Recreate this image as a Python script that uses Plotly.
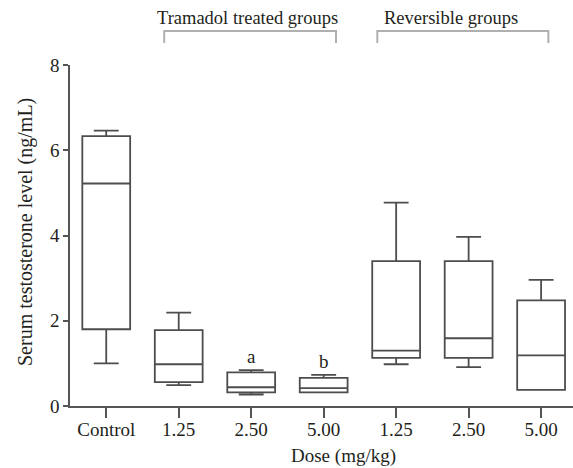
import plotly.graph_objects as go

# Data (ng/mL)
groups = ["Control", "1.25", "2.50", "5.00", "1.25", "2.50", "5.00"]
upper = [6.46, 2.19, 0.84, 0.73, 4.77, 3.97, 2.96]
q3 = [6.33, 1.78, 0.79, 0.66, 3.40, 3.40, 2.48]
median = [5.22, 0.98, 0.44, 0.42, 1.30, 1.59, 1.19]
q1 = [1.80, 0.56, 0.32, 0.32, 1.13, 1.13, 0.38]
lower = [1.00, 0.49, 0.27, 0.32, 0.98, 0.91, 0.38]
sig_labels = ["", "", "a", "b", "", "", ""]
group_titles = ["Tramadol treated groups", "Reversible groups"]
group_members = [[1, 2, 3], [4, 5, 6]]
y_ticks = [0, 2, 4, 6, 8]

positions = list(range(len(groups)))
FONT = "Liberation Serif, Times New Roman, serif"
TXT = "#231f20"
LINE = "#4d4d4d"
W, H = 573, 468
ML, MR, MT, MB = 70, 0, 65, 62
PW, PH = W - ML - MR, H - MT - MB

fig = go.Figure()
fig.add_trace(go.Box(
    x=positions, q1=q1, median=median, q3=q3,
    lowerfence=lower, upperfence=upper,
    boxpoints=False, fillcolor="rgba(0,0,0,0)",
    line=dict(color=LINE, width=1.8),
    whiskerwidth=0.52, width=0.66, showlegend=False, hoverinfo="skip",
))

annotations = []
for p, lab, u in zip(positions, sig_labels, upper):
    if lab:
        annotations.append(dict(x=p, y=u, xref="x", yref="y", text=lab,
                                showarrow=False, yanchor="bottom", yshift=1,
                                font=dict(family=FONT, size=19, color=TXT)))

# bracket extents relative to the group's first/last member, and label shift
bracket_pad = [(-0.20, 0.17, -0.03), (-0.26, 0.10, -0.165)]
shapes = []
for title, mem, (pl, pr, tshift) in zip(group_titles, group_members, bracket_pad):
    x0, x1 = mem[0] + pl, mem[-1] + pr
    c = (x0 + x1) / 2
    y_top, y_bot = (MT + PH - 31) / PH, (MT + PH - 43) / PH
    shapes.append(dict(type="path", xref="x", yref="paper",
                       path=f"M {x0},{y_bot} L {x0},{y_top} L {x1},{y_top} L {x1},{y_bot}",
                       line=dict(color="#b0b0b0", width=2)))
    annotations.append(dict(x=c + tshift, y=(MT + PH - 18) / PH, xref="x", yref="paper", text=title,
                            showarrow=False, yanchor="middle",
                            font=dict(family=FONT, size=18.5, color=TXT)))

# axis titles
annotations.append(dict(x=(343 - ML) / PW, y=-(456 - MT - PH) / PH, xref="paper", yref="paper",
                        text="Dose (mg/kg)", showarrow=False,
                        xanchor="center", yanchor="middle",
                        font=dict(family=FONT, size=19, color=TXT)))
annotations.append(dict(x=-(ML - 25) / PW, y=(MT + PH - 232) / PH, xref="paper", yref="paper",
                        text="Serum testosterone level (ng/mL)", showarrow=False,
                        textangle=-90, xanchor="center", yanchor="middle",
                        font=dict(family=FONT, size=20, color=TXT)))

fig.update_layout(
    width=W, height=H,
    margin=dict(l=ML, r=MR, t=MT, b=MB, autoexpand=False),
    paper_bgcolor="white", plot_bgcolor="white",
    font=dict(family=FONT, size=19, color=TXT),
    xaxis=dict(range=[-0.5, 6.44], tickvals=positions, ticktext=groups,
               automargin=False, ticklabelstandoff=-5,
               showgrid=False, zeroline=False, showline=True,
               linecolor="#555555", linewidth=1.6,
               ticks="outside", ticklen=10, tickwidth=1.6, tickcolor="#555555",
               tickfont=dict(family=FONT, size=19, color=TXT)),
    yaxis=dict(range=[0, 8], tickvals=y_ticks, automargin=False,
               showgrid=False, zeroline=False, showline=True,
               linecolor="#555555", linewidth=1.6,
               ticks="outside", ticklen=5, tickwidth=1.6, tickcolor="#555555",
               tickfont=dict(family=FONT, size=19, color=TXT)),
    annotations=annotations, shapes=shapes,
)

fig.write_html("out.html", config={"displayModeBar": False},
               post_script="document.body.style.margin='0';document.body.style.overflow='hidden';")
